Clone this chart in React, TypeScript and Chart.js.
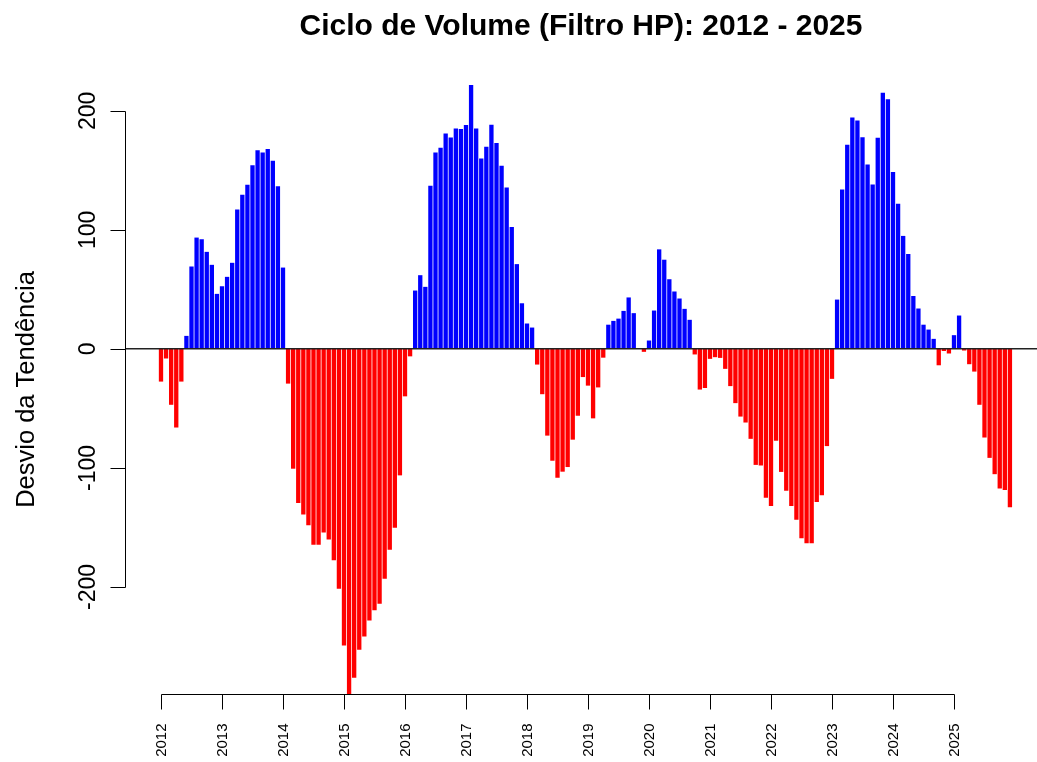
import React, { useEffect, useRef } from 'react';
import { Chart, registerables } from 'chart.js';

Chart.register(...registerables);

const chartTitle = 'Ciclo de Volume (Filtro HP): 2012 - 2025';
const yAxisTitle = 'Desvio da Tendência';

const years = [2012, 2013, 2014, 2015, 2016, 2017, 2018, 2019, 2020, 2021, 2022, 2023, 2024, 2025];

// Monthly deviation from HP trend (Jan..Dec) per year
const cycle2012 = [-27.5, -8.1, -47, -66.1, -27.5, 10.9, 69.2, 93.5, 92.1, 81.5, 70.6, 46.2];
const cycle2013 = [52.6, 60.5, 72.3, 117, 129.4, 137.8, 154.3, 166.9, 165, 168, 158, 136.6];
const cycle2014 = [68.3, -29.2, -100.7, -129.6, -139.1, -148.3, -164.6, -164.6, -154.2, -160.1, -177.7, -201.5];
const cycle2015 = [-249.2, -290, -276.3, -252.8, -241.6, -228.2, -219.7, -214.1, -193.1, -168.7, -150.3, -106.3];
const cycle2016 = [-39.9, -6.3, 49.0, 61.9, 52.1, 137, 165, 168.9, 180.9, 177.6, 185.1, 184.7];
const cycle2017 = [188, 221.7, 185.1, 160, 169.9, 188.4, 172.9, 153.9, 135.6, 102.4, 71.2, 38.3];
const cycle2018 = [21.3, 17.9, -13.2, -38.1, -72.9, -94, -108.2, -103.2, -99.3, -76.3, -56.2, -23.7];
const cycle2019 = [-30.9, -58.4, -32.4, -7.4, 20.3, 23.5, 25.4, 31.9, 43.2, 30, 0, -2.5];
const cycle2020 = [7, 32.2, 83.6, 74.9, 58.5, 48.2, 42.3, 33.6, 24.4, -4.7, -34.2, -32.9];
const cycle2021 = [-8.4, -7, -7.6, -16.8, -31.3, -45.6, -56.9, -61.9, -75.6, -97.5, -98, -125];
const cycle2022 = [-132.1, -77.2, -103.4, -119.2, -132.1, -143.5, -159.1, -163.3, -163.3, -128.7, -123.1, -81.7];
const cycle2023 = [-25.2, 41.4, 133.9, 171.4, 194.4, 191.8, 177.8, 155, 138, 177.3, 215.1, 209.7];
const cycle2024 = [148.7, 122, 94.9, 79.7, 44.4, 33.9, 20.3, 16.2, 8.4, -13.8, -1.8, -3.9];
const cycle2025 = [11.5, 28, -1.4, -12.9, -19.1, -47, -74.5, -91.6, -105.3, -117.4, -118.5, -133];

const cycleByYear = [
  cycle2012, cycle2013, cycle2014, cycle2015, cycle2016, cycle2017, cycle2018,
  cycle2019, cycle2020, cycle2021, cycle2022, cycle2023, cycle2024, cycle2025,
];

const yTicks = [-200, -100, 0, 100, 200];
const xTickYears = [2012, 2013, 2014, 2015, 2016, 2017, 2018, 2019, 2020, 2021, 2022, 2023, 2024, 2025];
const xTickLabels = xTickYears.map(String);

const positiveColor = '#0000FF';
const negativeColor = '#FF0000';

const FONT = '"Liberation Sans", Arial, Helvetica, sans-serif';

const rAxesPlugin = {
  id: 'rAxes',
  afterDatasetsDraw(chart: any) {
    const { ctx, chartArea, scales } = chart;
    const y0 = scales.y.getPixelForValue(0);
    ctx.save();
    ctx.strokeStyle = '#222222';
    ctx.lineWidth = 1.5;
    ctx.beginPath();
    ctx.moveTo(chartArea.left, y0);
    ctx.lineTo(chartArea.right + 2, y0);
    ctx.stroke();
    ctx.restore();
  },
  afterDraw(chart: any) {
    const { ctx, chartArea, scales } = chart;
    const xs = scales.x;
    const ys = scales.y;
    ctx.save();
    ctx.fillStyle = '#000';
    ctx.strokeStyle = '#000';
    ctx.lineWidth = 1;

    // Title
    ctx.font = `bold 30px ${FONT}`;
    ctx.textAlign = 'center';
    ctx.textBaseline = 'alphabetic';
    ctx.fillText(chartTitle, (chartArea.left + chartArea.right) / 2, 35);

    // Y axis
    const axX = Math.round(chartArea.left) + 0.5;
    const yTop = ys.getPixelForValue(yTicks[yTicks.length - 1]);
    const yBot = ys.getPixelForValue(yTicks[0]);
    ctx.beginPath();
    ctx.moveTo(axX, Math.round(yTop) + 0.5);
    ctx.lineTo(axX, Math.round(yBot) + 0.5);
    for (const t of yTicks) {
      const py = Math.round(ys.getPixelForValue(t)) + 0.5;
      ctx.moveTo(axX, py);
      ctx.lineTo(axX - 15, py);
    }
    ctx.stroke();
    ctx.font = `23px ${FONT}`;
    ctx.textAlign = 'center';
    ctx.textBaseline = 'alphabetic';
    for (const t of yTicks) {
      const py = ys.getPixelForValue(t);
      ctx.save();
      ctx.translate(axX - 31, py);
      ctx.rotate(-Math.PI / 2);
      ctx.fillText(String(t), 0, 0);
      ctx.restore();
    }
    // Y title
    ctx.save();
    ctx.translate(axX - 92, (chartArea.top + chartArea.bottom) / 2);
    ctx.rotate(-Math.PI / 2);
    ctx.font = `25.5px ${FONT}`;
    ctx.fillText(yAxisTitle, 0, 0);
    ctx.restore();

    // X axis
    const axY = Math.round(chartArea.bottom) + 0.5;
    const xL = Math.round(xs.getPixelForValue(xTickYears[0])) + 0.5;
    const xR = Math.round(xs.getPixelForValue(xTickYears[xTickYears.length - 1])) + 0.5;
    ctx.beginPath();
    ctx.moveTo(xL, axY);
    ctx.lineTo(xR, axY);
    for (const yr of xTickYears) {
      const px = Math.round(xs.getPixelForValue(yr)) + 0.5;
      ctx.moveTo(px, axY);
      ctx.lineTo(px, axY + 15);
    }
    ctx.stroke();
    ctx.font = `15px ${FONT}`;
    ctx.textAlign = 'right';
    ctx.textBaseline = 'middle';
    xTickYears.forEach((yr, i) => {
      const px = xs.getPixelForValue(yr);
      ctx.save();
      ctx.translate(px + 1, axY + 29);
      ctx.rotate(-Math.PI / 2);
      ctx.fillText(xTickLabels[i], 0, 0);
      ctx.restore();
    });
    ctx.restore();
  },
};

export default function App() {
  const canvasRef = useRef<HTMLCanvasElement | null>(null);

  useEffect(() => {
    const canvas = canvasRef.current;
    if (!canvas) return;
    const points = years.flatMap((yr, i) =>
      cycleByYear[i].map((v, m) => ({ x: yr + m / 12, y: v }))
    );
    const colors = points.map((p) => (p.y >= 0 ? positiveColor : negativeColor));
    const pxPerYear = 61.0;
    const left = 125;
    const right = 1037;
    const xMin = xTickYears[0] - (161 - left) / pxPerYear;
    const xMax = xMin + (right - left) / pxPerYear;

    const chart = new Chart(canvas, {
      type: 'bar',
      data: {
        datasets: [
          {
            data: points as any,
            backgroundColor: colors,
            borderWidth: 0,
            barPercentage: 0.85,
            categoryPercentage: 1,
          },
        ],
      },
      options: {
        animation: false,
        responsive: false,
        devicePixelRatio: 1,
        layout: { padding: { left: 125, right: 0, top: 85, bottom: 68 } },
        plugins: {
          legend: { display: false },
          title: { display: false },
          tooltip: { enabled: false },
        },
        scales: {
          x: {
            type: 'linear',
            min: xMin,
            max: xMax,
            offset: false,
            display: false,
          },
          y: {
            type: 'linear',
            min: -290,
            max: 221.7,
            display: false,
          },
        },
      },
      plugins: [rAxesPlugin],
    });
    return () => chart.destroy();
  }, []);

  return (
    <div style={{ position: 'absolute', left: 0, top: 0, width: 1037, height: 762, background: '#fff' }}>
      <canvas ref={canvasRef} width={1037} height={762} style={{ display: 'block' }} />
    </div>
  );
}
